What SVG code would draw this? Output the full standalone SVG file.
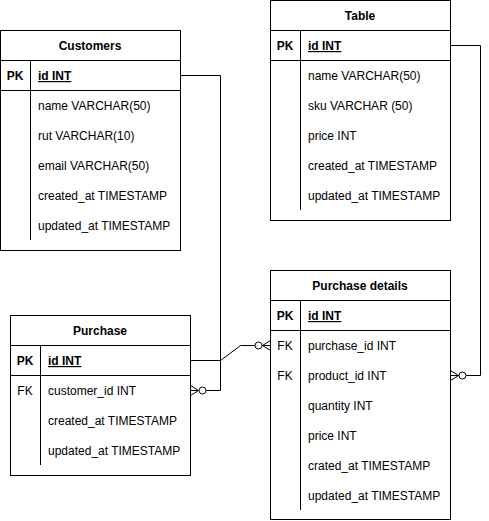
<svg xmlns="http://www.w3.org/2000/svg" width="489" height="521" viewBox="0 0 489 521">
<style>
.box{fill:#fff;stroke:#000;stroke-width:1}
.ln{stroke:#000;stroke-width:1;fill:none}
text{font-family:"Liberation Sans",Arial,sans-serif;font-size:12px;fill:#000}
.h{font-weight:bold;text-anchor:middle}
.k{font-weight:bold;text-anchor:middle}
.fk{text-anchor:middle}
.pk{font-weight:bold;text-decoration:underline}
.c{fill:none;stroke:#000;stroke-width:1}
.co{fill:#fff;stroke:#000;stroke-width:1}
</style>
<rect width="489" height="521" fill="#fff"/>
<g id="connectors">
  <path class="c" d="M180.5 75.5 H220.5 V390.5 H190.5"/>
  <path class="c" d="M190.5 360.5 H220.5 L240.5 345.5 H270.5"/>
  <path class="c" d="M450.5 45.5 H480.5 V375.5 H450.5"/>
  <path class="c" d="M190.5 385.5 L198.5 390.5 L190.5 395.5 M190.5 390.5 H198.5"/>
  <circle class="co" cx="202.5" cy="390.5" r="3.5"/>
  <path class="c" d="M270.5 340.5 L262.5 345.5 L270.5 350.5 M270.5 345.5 H262.5"/>
  <circle class="co" cx="258.5" cy="345.5" r="3.5"/>
  <path class="c" d="M450.5 370.5 L458.5 375.5 L450.5 380.5 M450.5 375.5 H458.5"/>
  <circle class="co" cx="462.5" cy="375.5" r="3.5"/>
</g>
<g id="customers">
  <rect class="box" x="0.5" y="30.5" width="180" height="220"/>
  <path class="ln" d="M0.5 60.5 H180.5 M0.5 90.5 H180.5 M30.5 60.5 V240"/>
  <text class="h" x="90" y="50">Customers</text>
  <text class="k" x="15" y="80">PK</text>
  <text class="pk" x="38" y="80">id INT</text>
  <text x="38" y="110">name VARCHAR(50)</text>
  <text x="38" y="140">rut VARCHAR(10)</text>
  <text x="38" y="170">email VARCHAR(50)</text>
  <text x="38" y="200">created_at TIMESTAMP</text>
  <text x="38" y="230">updated_at TIMESTAMP</text>
</g>
<g id="table">
  <rect class="box" x="270.5" y="0.5" width="180" height="220"/>
  <path class="ln" d="M270.5 30.5 H450.5 M270.5 60.5 H450.5 M300.5 30.5 V210"/>
  <text class="h" x="360" y="20">Table</text>
  <text class="k" x="285" y="50">PK</text>
  <text class="pk" x="308" y="50">id INT</text>
  <text x="308" y="80">name VARCHAR(50)</text>
  <text x="308" y="110">sku VARCHAR (50)</text>
  <text x="308" y="140">price INT</text>
  <text x="308" y="170">created_at TIMESTAMP</text>
  <text x="308" y="200">updated_at TIMESTAMP</text>
</g>
<g id="purchase">
  <rect class="box" x="10.5" y="315.5" width="180" height="160"/>
  <path class="ln" d="M10.5 345.5 H190.5 M10.5 375.5 H190.5 M40.5 345.5 V465"/>
  <text class="h" x="100" y="335">Purchase</text>
  <text class="k" x="25" y="365">PK</text>
  <text class="pk" x="48" y="365">id INT</text>
  <text class="fk" x="25" y="395">FK</text>
  <text x="48" y="395">customer_id INT</text>
  <text x="48" y="425">created_at TIMESTAMP</text>
  <text x="48" y="455">updated_at TIMESTAMP</text>
</g>
<g id="purchase-details">
  <rect class="box" x="270.5" y="270.5" width="180" height="249"/>
  <path class="ln" d="M270.5 300.5 H450.5 M270.5 330.5 H450.5 M300.5 300.5 V510"/>
  <text class="h" x="360" y="290">Purchase details</text>
  <text class="k" x="285" y="320">PK</text>
  <text class="pk" x="308" y="320">id INT</text>
  <text class="fk" x="285" y="350">FK</text>
  <text x="308" y="350">purchase_id INT</text>
  <text class="fk" x="285" y="380">FK</text>
  <text x="308" y="380">product_id INT</text>
  <text x="308" y="410">quantity INT</text>
  <text x="308" y="440">price INT</text>
  <text x="308" y="470">crated_at TIMESTAMP</text>
  <text x="308" y="500">updated_at TIMESTAMP</text>
</g>
</svg>
